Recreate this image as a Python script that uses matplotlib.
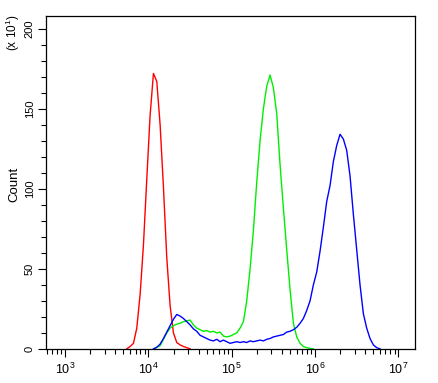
import numpy as np
import matplotlib
matplotlib.use('Agg')
import matplotlib.pyplot as plt
from matplotlib.ticker import LogLocator, MultipleLocator, NullFormatter

plt.rcParams['font.family'] = ['Liberation Sans', 'DejaVu Sans']
plt.rcParams['mathtext.fontset'] = 'custom'
plt.rcParams['mathtext.rm'] = 'Liberation Sans'

# channel spacing in log10 units
step = 0.04

red_start = 3.74
red_counts = [0, 1.5, 3.5, 13, 34, 65, 106, 146, 172, 167, 140, 101, 57, 27, 10,
              4, 2.5, 1.5, 0.8, 0]

green_start = 4.06
green_counts = [0, 1, 2, 6, 10, 13, 14.5, 15.5, 16, 17, 17.5, 18, 15, 13, 12, 11,
                11.5, 10.5, 11, 10, 10.5, 8, 7.5, 8, 9, 10, 13, 17, 30, 50, 74,
                104, 130, 150, 164, 171, 163, 147, 115, 88, 62, 37, 16, 7.5,
                3.5, 1.5, 0.8, 0.3, 0]

blue_start = 4.06
blue_counts = [0, 1, 3, 6.5, 10.5, 14.5, 18.5, 21.5, 20.5, 19, 17, 15, 12.5, 11,
               8.5, 7.5, 6.5, 5.5, 5, 6, 4.5, 5.5, 4.5, 3.5, 4, 4.5, 4, 4.5, 4,
               5, 4.5, 5, 5.5, 5, 6, 6.5, 7.5, 8, 8.5, 9, 10.5, 11, 12, 13.5,
               16, 19, 24, 30, 40, 48, 61, 76, 92, 102, 117, 127, 134, 131,
               124, 108, 84, 62, 40, 22, 13, 6.5, 2.5, 0.8, 0]

x_ticks = [1e3, 1e4, 1e5, 1e6, 1e7]
x_labels = [r'$10^{3}$', r'$10^{4}$', r'$10^{5}$', r'$10^{6}$', r'$10^{7}$']
y_ticks = [0, 50, 100, 150, 200]

fig = plt.figure(figsize=(4.38, 3.83), dpi=100)
ax = fig.add_axes([0.105, 0.089, 0.8425, 0.869])


def draw(start, counts, color):
    x = 10 ** (start + step * np.arange(len(counts)))
    ax.plot(x, counts, color=color, lw=1.0)


draw(red_start, red_counts, '#ff0000')
draw(green_start, green_counts, '#00ee00')
draw(blue_start, blue_counts, '#0000ff')

ax.set_xscale('log')
ax.set_xlim(10 ** 2.77, 10 ** 7.2)
ax.set_ylim(0, 207.8)

ax.set_xticks(x_ticks)
ax.set_xticklabels(x_labels, fontsize=9)
ax.xaxis.set_minor_locator(LogLocator(base=10, subs=np.arange(2, 10)))
ax.xaxis.set_minor_formatter(NullFormatter())

ax.set_yticks(y_ticks)
ax.set_yticklabels([str(v) for v in y_ticks], rotation=90, va='center',
                   fontsize=8)
ax.yaxis.set_minor_locator(MultipleLocator(10))

ax.tick_params(which='major', direction='out', length=6, width=0.8,
               top=False, right=False)
ax.tick_params(which='minor', direction='out', length=3.5, width=0.8,
               top=False, right=False)
ax.tick_params(axis='y', pad=2)

for s in ax.spines.values():
    s.set_linewidth(0.9)

ax.set_ylabel('Count', fontsize=9.5)
ax.yaxis.set_label_coords(-0.069, 0.495)
fig.text(0.030, 0.914, r'(x 10$^{1}$)', rotation=90, fontsize=8.5,
         ha='center', va='center')

fig.savefig('out.png', dpi=100)
